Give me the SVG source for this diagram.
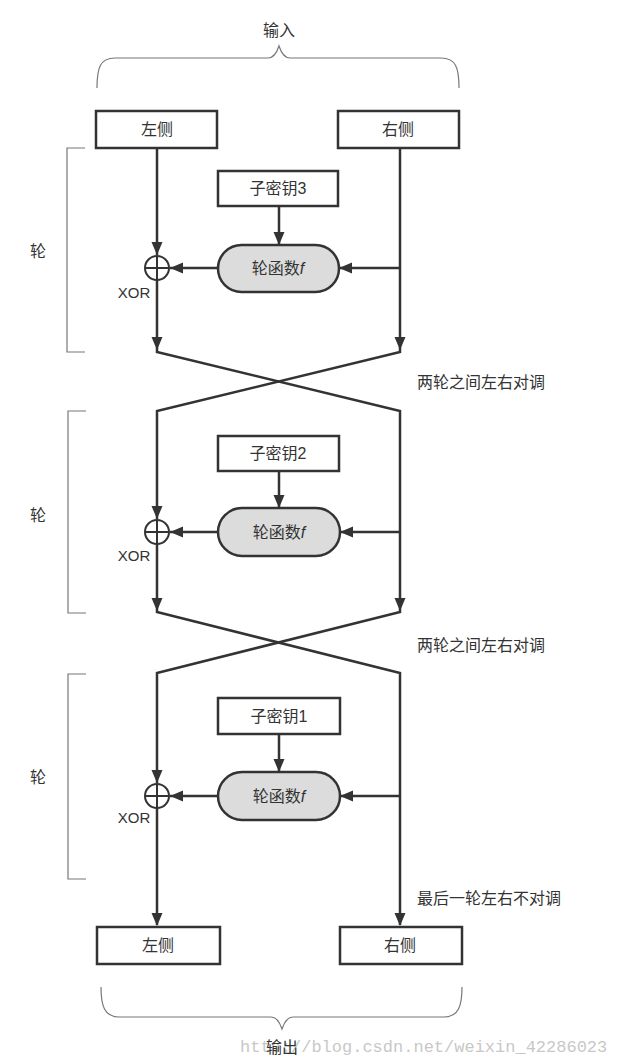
<svg xmlns="http://www.w3.org/2000/svg" xmlns:xlink="http://www.w3.org/1999/xlink" width="621" height="1064" viewBox="0 0 621 1064">
<style>
.bg{fill:#ffffff}
.box{fill:#ffffff;stroke:#333;stroke-width:2.5}
.pill{fill:#dcdcdc;stroke:#333;stroke-width:2.5}
.ln{fill:none;stroke:#333;stroke-width:2.5}
.xor{fill:none;stroke:#333;stroke-width:2}
.brk{fill:none;stroke:#777;stroke-width:1.2}
.t{font-family:"Liberation Sans","Noto Sans CJK SC",sans-serif;font-size:16px;fill:#333;text-anchor:middle}
.lbl{font-family:"Liberation Sans","Noto Sans CJK SC",sans-serif;font-size:16px;fill:#333}
.x{font-family:"Liberation Sans",sans-serif;font-size:15px;fill:#333;text-anchor:middle}
.wm{font-family:"Liberation Mono",monospace;font-size:17px;fill:#c8c8c8}
.ah{fill:#333}
</style>
<defs>
<polygon id="ad" class="ah" points="-5.5,-13 5.5,-13 0,0"/>
<polygon id="al" class="ah" points="13,-5.5 13,5.5 0,0"/>
</defs>
<rect class="bg" x="0" y="0" width="621" height="1064"/>

<g id="input-brace">
<path class="brk" d="M97,88 C97,68 100,58 115,58 L268,58 C274,58 277,52 279,46 C281,52 284,58 290,58 L441,58 C456,58 459,68 459,88"/>
<text class="t" x="279" y="36">输入</text>
</g>

<g id="round-brackets">
<path class="brk" d="M85,148 L67,148 L67,352 L85,352"/>
<text class="t" x="38" y="257">轮</text>
<path class="brk" d="M86,411 L68,411 L68,613 L86,613"/>
<text class="t" x="38" y="521">轮</text>
<path class="brk" d="M86,674 L68,674 L68,879 L86,879"/>
<text class="t" x="38" y="783">轮</text>
</g>

<g id="connectors">
<!-- left column -->
<path class="ln" d="M157,148 L157,255"/>
<path class="ln" d="M157,280 L157,352 L400,411 L400,612 L157,673 L157,783"/>
<path class="ln" d="M157,808 L157,925"/>
<!-- right column -->
<path class="ln" d="M400,148 L400,352 L157,411 L157,519"/>
<path class="ln" d="M157,544 L157,612 L400,673 L400,925"/>
<!-- round 1 -->
<path class="ln" d="M279,206 L279,245"/>
<path class="ln" d="M400,268 L339,268"/>
<path class="ln" d="M218,268 L170,268"/>
<!-- round 2 -->
<path class="ln" d="M279,471 L279,508"/>
<path class="ln" d="M400,532 L340,532"/>
<path class="ln" d="M218,532 L170,532"/>
<!-- round 3 -->
<path class="ln" d="M279,734 L279,772"/>
<path class="ln" d="M400,796 L340,796"/>
<path class="ln" d="M218,796 L170,796"/>
<!-- arrowheads -->
<use xlink:href="#ad" x="157" y="255"/>
<use xlink:href="#ad" x="157" y="350"/>
<use xlink:href="#ad" x="400" y="350"/>
<use xlink:href="#ad" x="279" y="245"/>
<use xlink:href="#al" x="339" y="268"/>
<use xlink:href="#al" x="170" y="268"/>
<use xlink:href="#ad" x="157" y="519"/>
<use xlink:href="#ad" x="157" y="611"/>
<use xlink:href="#ad" x="400" y="611"/>
<use xlink:href="#ad" x="279" y="508"/>
<use xlink:href="#al" x="340" y="532"/>
<use xlink:href="#al" x="170" y="532"/>
<use xlink:href="#ad" x="157" y="783"/>
<use xlink:href="#ad" x="157" y="926"/>
<use xlink:href="#ad" x="400" y="926"/>
<use xlink:href="#ad" x="279" y="772"/>
<use xlink:href="#al" x="340" y="796"/>
<use xlink:href="#al" x="170" y="796"/>
</g>

<g id="swap-labels">
<text class="lbl" x="417" y="388">两轮之间左右对调</text>
<text class="lbl" x="417" y="651">两轮之间左右对调</text>
<text class="lbl" x="417" y="904">最后一轮左右不对调</text>
</g>

<g id="in-left">
<rect class="box" x="96" y="111" width="121" height="37"/>
<text class="t" x="157" y="135">左侧</text>
</g>
<g id="in-right">
<rect class="box" x="338" y="111" width="121" height="37"/>
<text class="t" x="398" y="135">右侧</text>
</g>

<g id="subkey3">
<rect class="box" x="218" y="171" width="120" height="35"/>
<text class="t" x="278" y="194">子密钥3</text>
</g>
<g id="f1">
<rect class="pill" x="218" y="245" width="121" height="47" rx="23.5"/>
<text class="t" x="278" y="274">轮函数<tspan font-style="italic">f</tspan></text>
</g>
<g id="xor1">
<circle class="xor" cx="157" cy="268" r="12"/>
<path class="xor" d="M145,268 L169,268 M157,256 L157,280"/>
<text class="x" x="134" y="298">XOR</text>
</g>

<g id="subkey2">
<rect class="box" x="218" y="436" width="121" height="35"/>
<text class="t" x="278" y="459">子密钥2</text>
</g>
<g id="f2">
<rect class="pill" x="218" y="508" width="122" height="48" rx="24"/>
<text class="t" x="279" y="538">轮函数<tspan font-style="italic">f</tspan></text>
</g>
<g id="xor2">
<circle class="xor" cx="157" cy="532" r="12"/>
<path class="xor" d="M145,532 L169,532 M157,520 L157,544"/>
<text class="x" x="134" y="561">XOR</text>
</g>

<g id="subkey1">
<rect class="box" x="218" y="698" width="122" height="36"/>
<text class="t" x="279" y="722">子密钥1</text>
</g>
<g id="f3">
<rect class="pill" x="218" y="772" width="122" height="48" rx="24"/>
<text class="t" x="279" y="802">轮函数<tspan font-style="italic">f</tspan></text>
</g>
<g id="xor3">
<circle class="xor" cx="157" cy="796" r="12"/>
<path class="xor" d="M145,796 L169,796 M157,784 L157,808"/>
<text class="x" x="134" y="823">XOR</text>
</g>

<g id="out-left">
<rect class="box" x="97" y="927" width="123" height="37"/>
<text class="t" x="158" y="951">左侧</text>
</g>
<g id="out-right">
<rect class="box" x="340" y="927" width="122" height="37"/>
<text class="t" x="400" y="951">右侧</text>
</g>

<g id="output-brace">
<path class="brk" d="M101,987 C101,1005 104,1017 119,1017 L271,1017 C277,1017 280,1023 282,1029 C284,1023 287,1017 293,1017 L444,1017 C459,1017 462,1005 462,987"/>
<text class="wm" x="240" y="1052">http://blog.csdn.net/weixin_42286023</text>
<text class="t" x="282" y="1053">输出</text>
</g>
</svg>
